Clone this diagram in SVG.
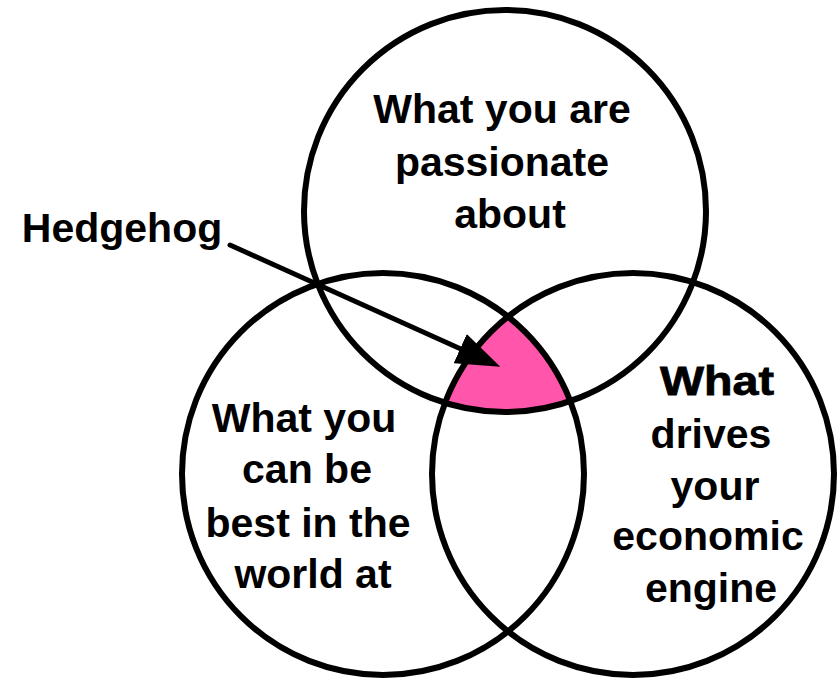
<svg xmlns="http://www.w3.org/2000/svg" width="838" height="681" viewBox="0 0 838 681">
  <style>
    .ring { fill: none; stroke: #000; stroke-width: 6; }
    .core { fill: #ff55aa; stroke: none; }
    .lbl { font-family: "Liberation Sans", Arial, sans-serif; font-weight: bold; font-size: 41px; fill: #000; text-anchor: middle; }
    .conn { stroke: #000; stroke-width: 5; fill: none; stroke-linecap: round; }
  </style>
  <defs>
    <marker id="head" viewBox="0 -16 44 32" refX="2" refY="0" markerWidth="44" markerHeight="32" markerUnits="userSpaceOnUse" orient="auto">
      <path d="M0,-16 L44,0 L0,16 z" fill="#000"/>
    </marker>
  </defs>
  <rect width="838" height="681" fill="#fff"/>

  <g id="node-hedgehog-zone">
    <path class="core" d="M508,316.6 A201,201 0 0 0 445,402.8 A201,201 0 0 0 570.3,401.1 A201,201 0 0 0 508,316.6 Z"/>
  </g>

  <g id="node-passion">
    <circle class="ring" cx="505" cy="211" r="201"/>
    <text class="lbl" x="502" y="123">What you are</text>
    <text class="lbl" x="502" y="176">passionate</text>
    <text class="lbl" x="510" y="228">about</text>
  </g>

  <g id="node-best">
    <circle class="ring" cx="383" cy="474" r="201"/>
    <text class="lbl" x="304" y="432">What you</text>
    <text class="lbl" x="307" y="483">can be</text>
    <text class="lbl" x="308" y="537">best in the</text>
    <text class="lbl" x="313" y="588">world at</text>
  </g>

  <g id="node-economic">
    <circle class="ring" cx="633" cy="474" r="201"/>
    <text class="lbl" x="717" y="395" textLength="114" lengthAdjust="spacingAndGlyphs" stroke="#000" stroke-width="0.8">What</text>
    <text class="lbl" x="711" y="448">drives</text>
    <text class="lbl" x="715" y="500">your</text>
    <text class="lbl" x="708" y="550">economic</text>
    <text class="lbl" x="711" y="602">engine</text>
  </g>

  <g id="node-hedgehog-label">
    <text class="lbl" x="122" y="242">Hedgehog</text>
  </g>

  <g id="connectors">
    <line class="conn" x1="230" y1="245" x2="462" y2="349.5" marker-end="url(#head)"/>
  </g>
</svg>
